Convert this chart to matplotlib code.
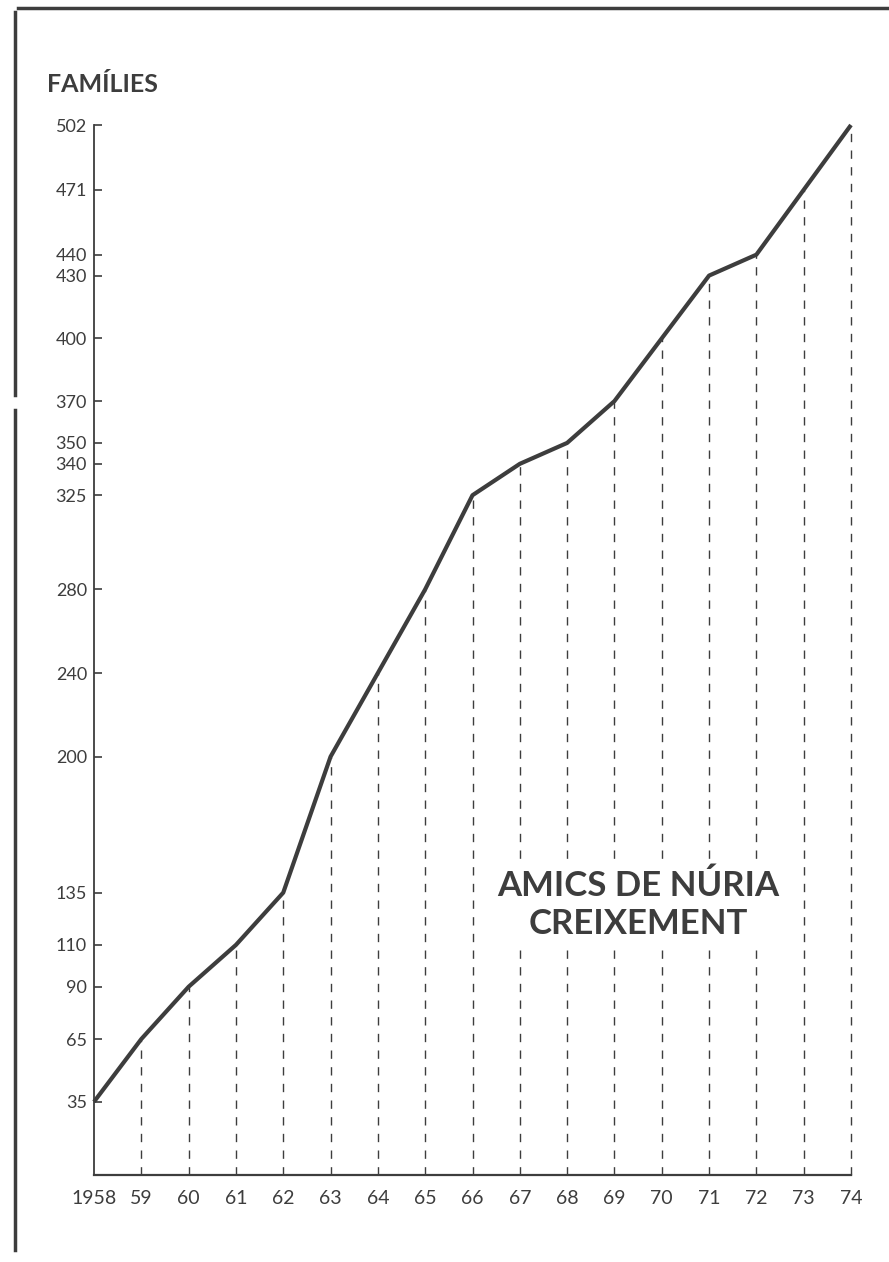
import matplotlib
matplotlib.use("Agg")
from matplotlib import pyplot as plt
from matplotlib.lines import Line2D

# dades del grafic
anys = [1958, 1959, 1960, 1961, 1962, 1963, 1964, 1965, 1966,
        1967, 1968, 1969, 1970, 1971, 1972, 1973, 1974]
families = [35, 65, 90, 110, 135, 200, 240, 280, 325,
            340, 350, 370, 400, 430, 440, 471, 502]
etiquetes_x = ["1958", "59", "60", "61", "62", "63", "64", "65", "66",
               "67", "68", "69", "70", "71", "72", "73", "74"]
ticks_y = [35, 65, 90, 110, 135, 200, 240, 280, 325,
           340, 350, 370, 400, 430, 440, 471, 502]

color = "#3d3d3d"
font = ["Lato", "DejaVu Sans"]

fig = plt.figure(figsize=(8.89, 12.62), dpi=100)
ax = fig.add_axes([94 / 889, 87 / 1262, (851 - 94) / 889, (1175 - 125) / 1262])

# linies verticals discontinues
for x, y in zip(anys[1:], families[1:]):
    ax.plot([x, x], [0, y], color=color, lw=1.0, ls=(0, (6, 6)), zorder=1,
            clip_on=False)

ax.plot(anys, families, color=color, lw=3.0, solid_capstyle="butt", zorder=3,
        clip_on=False)

ax.set_xlim(1958, 1974)
ax.set_ylim(0, 502)
ax.spines["top"].set_visible(False)
ax.spines["right"].set_visible(False)
ax.spines["left"].set_color(color)
ax.spines["bottom"].set_color(color)
ax.spines["left"].set_linewidth(1.3)
ax.spines["bottom"].set_linewidth(1.6)

ax.set_yticks(ticks_y)
ax.set_yticklabels([str(v) for v in ticks_y], fontsize=13, color=color, family=font)
ax.tick_params(axis="y", direction="in", length=6, width=1.2, color=color, pad=5)
ax.set_xticks(anys)
ax.set_xticklabels(etiquetes_x, fontsize=14, color=color, family=font)
ax.tick_params(axis="x", length=0, pad=11)

fig.text(47 / 889, 1 - 85 / 1262, "FAMÍLIES", fontsize=18, fontweight="bold",
         color=color, family=font, va="center", ha="left")
ax.text(638 / 889, 1 - 905 / 1262, "AMICS DE NÚRIA\nCREIXEMENT",
        transform=fig.transFigure,
        fontsize=25, fontweight="bold", color=color, family=font,
        ha="center", va="center", linespacing=1.25,
        bbox=dict(facecolor="white", edgecolor="none", pad=2))

# marc de la pagina escanejada
fig.add_artist(Line2D([18 / 889, 1.0], [1 - 8 / 1262, 1 - 8 / 1262],
                      color=color, lw=2.5, transform=fig.transFigure))
fig.add_artist(Line2D([15 / 889, 15 / 889], [1 - 12 / 1262, 1 - 395 / 1262],
                      color=color, lw=2.5, transform=fig.transFigure))
fig.add_artist(Line2D([15 / 889, 15 / 889], [1 - 410 / 1262, 1 - 1250 / 1262],
                      color=color, lw=2.5, transform=fig.transFigure))

fig.savefig("out.png", dpi=100)
